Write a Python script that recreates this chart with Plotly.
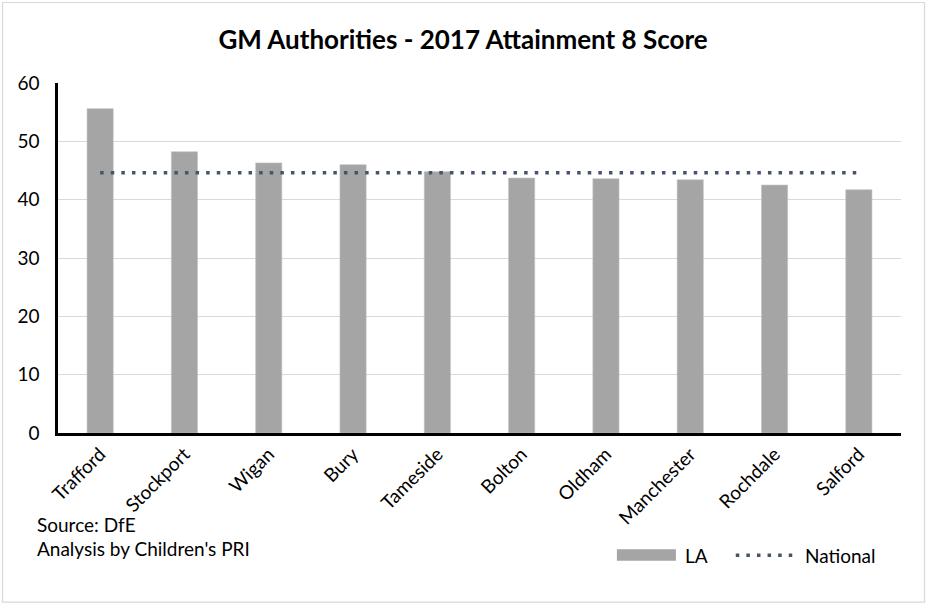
import plotly.graph_objects as go

# Attainment 8 score by Greater Manchester local authority, 2017
authorities = ["Trafford", "Stockport", "Wigan", "Bury", "Tameside",
               "Bolton", "Oldham", "Manchester", "Rochdale", "Salford"]
la_scores = [55.6, 48.2, 46.3, 46.0, 44.8, 43.7, 43.6, 43.4, 42.5, 41.7]
national_score = 44.6
national_line = [national_score] * len(authorities)

y_ticks = [0, 10, 20, 30, 40, 50, 60]

FONT = "Lato"
BAR_COLOR = "#A5A5A5"
LINE_COLOR = "#44546A"
TEXT_COLOR = "#000000"

fig = go.Figure()

fig.add_trace(go.Bar(
    x=authorities, y=la_scores, name="LA",
    marker=dict(color=BAR_COLOR, line=dict(color="#BFBFBF", width=0.6)),
    showlegend=False,
))

fig.add_trace(go.Scatter(
    x=authorities, y=national_line, name="National", mode="lines",
    line=dict(color=LINE_COLOR, width=3.5, dash="3.5px,7.1px"),
    showlegend=False,
))

# frame around the whole chart area
shapes = [dict(type="rect", xref="paper", yref="paper",
               x0=-0.0658, x1=1.0279, y0=-0.483, y1=1.23,
               line=dict(color="#D9D9D9", width=1.2), fillcolor="rgba(0,0,0,0)",
               layer="below")]

# legend drawn beneath the category labels
shapes.append(dict(type="rect", xref="paper", yref="paper",
                   x0=0.663, x1=0.733, y0=-0.365, y1=-0.332,
                   line=dict(width=0), fillcolor=BAR_COLOR))
shapes.append(dict(type="line", xref="paper", yref="paper",
                   x0=0.804, x1=0.871, y0=-0.349, y1=-0.349,
                   line=dict(color=LINE_COLOR, width=3.5, dash="3.5px,7.1px")))

annotations = [
    dict(text="LA", xref="paper", yref="paper", x=0.741, y=-0.349,
         xanchor="left", yanchor="middle", showarrow=False,
         font=dict(family=FONT, size=19, color=TEXT_COLOR)),
    dict(text="National", xref="paper", yref="paper", x=0.884, y=-0.349,
         xanchor="left", yanchor="middle", showarrow=False,
         font=dict(family=FONT, size=19, color=TEXT_COLOR)),
    dict(text="Source: DfE", xref="paper", yref="paper", x=-0.0273, y=-0.26,
         xanchor="left", yanchor="middle", showarrow=False,
         font=dict(family=FONT, size=19, color=TEXT_COLOR)),
    dict(text="Analysis by Children's PRI", xref="paper", yref="paper",
         x=-0.0273, y=-0.329, xanchor="left", yanchor="middle", showarrow=False,
         font=dict(family=FONT, size=19, color=TEXT_COLOR)),
]

fig.update_layout(
    width=926, height=604,
    margin=dict(l=58, r=25, t=83, b=171),
    paper_bgcolor="white", plot_bgcolor="white",
    title=dict(text="<b>GM Authorities - 2017 Attainment 8 Score</b>",
               x=0.5, xref="container", xanchor="center",
               y=1 - 40 / 604, yref="container", yanchor="middle",
               font=dict(family=FONT, size=26, color=TEXT_COLOR)),
    bargap=0.69,
    showlegend=False,
    shapes=shapes,
    annotations=annotations,
    font=dict(family=FONT, size=19, color=TEXT_COLOR),
)

fig.update_xaxes(
    type="category", tickangle=-45, showgrid=False,
    showline=True, linecolor="black", linewidth=2.5,
    ticks="", tickfont=dict(family=FONT, size=19, color=TEXT_COLOR),
)

fig.update_yaxes(
    range=[0, 60], tickvals=y_ticks, showgrid=True,
    gridcolor="#D9D9D9", gridwidth=1.2,
    showline=True, linecolor="black", linewidth=2.5,
    ticks="", ticklabelstandoff=12, zeroline=False,
    tickfont=dict(family=FONT, size=19, color=TEXT_COLOR),
)

fig.write_html("out.html")
